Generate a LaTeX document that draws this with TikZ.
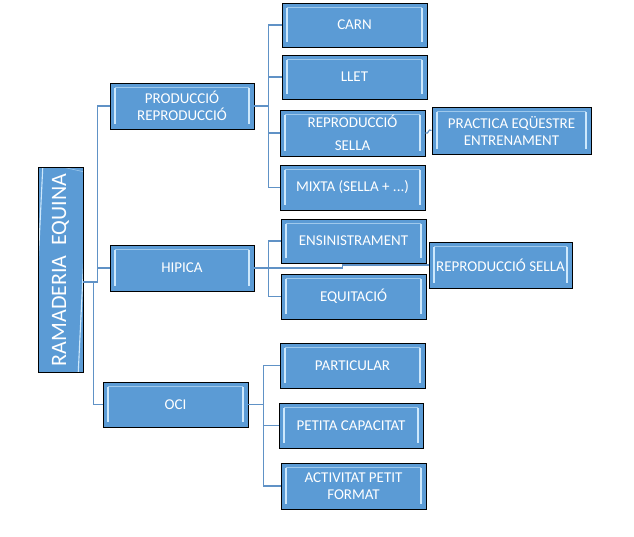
\documentclass[tikz,border=0pt]{standalone}
\usepackage{fontspec}
\setmainfont{Carlito}
\usepackage{tikz}
\definecolor{boxblue}{RGB}{91,155,213}
\definecolor{bevel}{RGB}{205,232,252}
\definecolor{linkblue}{RGB}{96,146,198}
\tikzset{
  bx/.style={draw=black, line width=0.9pt, fill=boxblue, text=white, font=\fontsize{15}{17}\selectfont,
    align=center, minimum width=145pt, minimum height=45pt, inner sep=2pt,
    path picture={
      \draw[bevel, line width=1.1pt]
        ([xshift=5pt,yshift=-5pt]path picture bounding box.north west) -- ([xshift=5pt,yshift=5pt]path picture bounding box.south west)
        ([xshift=-5pt,yshift=-5pt]path picture bounding box.north east) -- ([xshift=-5pt,yshift=5pt]path picture bounding box.south east);
      \draw[bevel!60!boxblue, line width=0.6pt]
        ([xshift=5pt,yshift=-4pt]path picture bounding box.north west) -- ([xshift=-5pt,yshift=-4pt]path picture bounding box.north east);
    }},
  conn/.style={draw=linkblue, line width=1.1pt}
}
\begin{document}
\begin{tikzpicture}[x=1pt,y=-1pt]
\useasboundingbox (0,0) rectangle (634,536);

\node[bx, minimum width=205pt, minimum height=45pt, rotate=90, font=\fontsize{22}{24}\selectfont] (ramaderia) at (60.5,270) {RAMADERIA\ \ EQUINA};

\node[bx, minimum width=144pt, minimum height=46pt] (produccio) at (182,106) {PRODUCCIÓ\\REPRODUCCIÓ};
\node[bx, minimum width=144pt, minimum height=46pt] (hipica) at (182,268) {HIPICA};
\node[bx] (oci) at (175.5,404.5) {OCI};

\node[bx, minimum height=44pt] (carn) at (354.5,25) {CARN};
\node[bx, minimum height=44pt] (llet) at (354.5,77) {LLET};
\node[bx, minimum height=46pt] (reprod) at (352.5,133) {REPRODUCCIÓ\\[6pt]SELLA};
\node[bx] (mixta) at (352.5,187.5) {MIXTA (SELLA + ...)};
\node[bx, minimum width=159pt, minimum height=47pt] (practica) at (511.5,130.5) {PRACTICA EQÜESTRE\\ENTRENAMENT};

\node[bx, minimum height=44pt] (ensin) at (353.5,241) {ENSINISTRAMENT};
\node[bx] (equit) at (353.5,296.5) {EQUITACIÓ};
\node[bx, minimum width=143pt, minimum height=46pt] (reprsella) at (500.5,265) {REPRODUCCIÓ SELLA};

\node[bx] (particular) at (352.5,365.5) {PARTICULAR};
\node[bx, minimum width=144pt] (petita) at (351,425.5) {PETITA CAPACITAT};
\node[bx, minimum height=46pt] (activitat) at (353.5,486) {ACTIVITAT PETIT\\FORMAT};

% connectors
\foreach \c in {produccio,hipica}
  \draw[conn] ([yshift=-12pt]ramaderia.south) -- ++(14,0) |- (\c.west);
\draw[conn] ([yshift=-12pt]ramaderia.south) -- ++(10,0) |- (oci.west);

\foreach \c in {carn,llet,reprod,mixta}
  \draw[conn] (produccio.east) -- ++(14,0) |- (\c.west);
\foreach \c in {ensin,equit}
  \draw[conn] (hipica.east) -- ++(14,0) |- (\c.west);
\foreach \c in {particular,petita,activitat}
  \draw[conn] (oci.east) -- ++(15,0) |- (\c.west);

\draw[conn] (hipica.east) -- ++(88,0) -- ++(0,-3) -- (reprsella.west);
\draw[conn] (reprod.east) -- ++(2,0) -- ++(2,-3) -- (practica.west);
\end{tikzpicture}
\end{document}
